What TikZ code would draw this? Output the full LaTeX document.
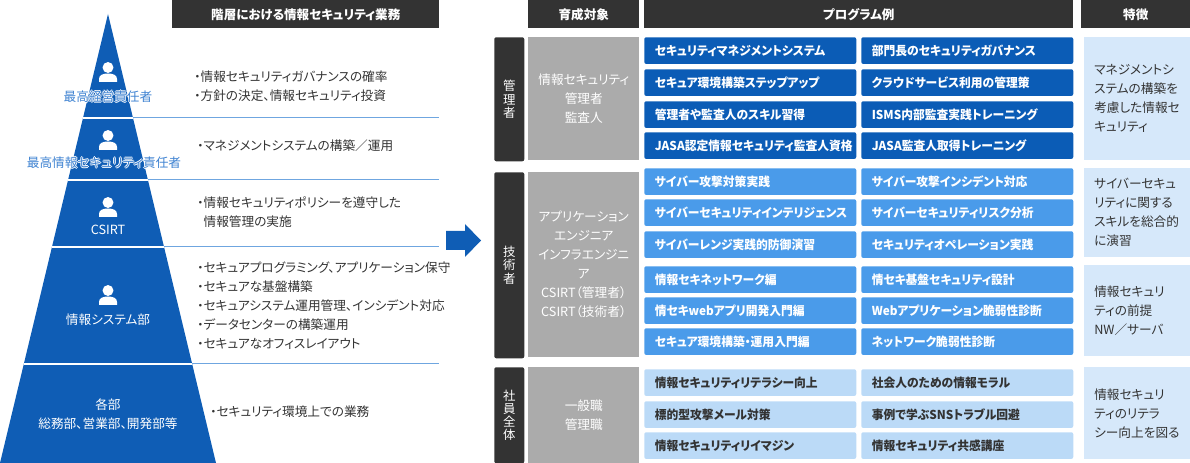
\documentclass[tikz,border=0pt]{standalone}
\usepackage{fontspec}
\setmainfont{Noto Sans CJK JP}[RawFeature=+palt]
\newfontfamily\progfont{Noto Sans CJK JP}[RawFeature=+palt, FakeStretch=0.96]
\definecolor{headgray}{HTML}{333333}
\definecolor{pyrblue}{HTML}{0F5DB5}
\definecolor{progdark}{HTML}{0B5CB6}
\definecolor{progmid}{HTML}{4A9BEA}
\definecolor{proglight}{HTML}{BBDAF7}
\definecolor{featblue}{HTML}{D6E8FA}
\definecolor{graybox}{HTML}{ABABAB}
\definecolor{sepblue}{HTML}{6FA6E0}
\definecolor{lblblue}{HTML}{3F83D2}
\definecolor{txtgray}{HTML}{333333}

\newcommand\nobul{\hphantom{・}}
\newcommand\halo[1]{%
  \makebox[0pt][l]{\color{white}\hspace*{0.7pt}#1}%
  \makebox[0pt][l]{\color{white}\hspace*{-0.7pt}#1}%
  \makebox[0pt][l]{\color{white}\raisebox{0.7pt}{#1}}%
  \makebox[0pt][l]{\color{white}\raisebox{-0.7pt}{#1}}%
  #1}

\tikzset{
  headbox/.style={fill=headgray, text=white, anchor=north west, minimum height=21pt, inner sep=0pt,
    font=\fontsize{9.4}{10}\selectfont\bfseries},
  catbar/.style={fill=headgray, rounded corners=1.5pt, text=white, anchor=north west, minimum width=22.5pt,
    inner sep=0pt, align=center, font=\fontsize{9.3}{9.9}\selectfont},
  targetbox/.style={fill=graybox, text=white, anchor=north west, minimum width=83.25pt, inner sep=0pt,
    align=center, font=\fontsize{9.5}{14.25}\selectfont},
  progbox/.style={rounded corners=1.5pt, anchor=north west, minimum width=159pt, minimum height=20pt,
    inner xsep=7.9pt, inner ysep=0pt, text width=143.2pt, align=left,
    font=\progfont\fontsize{9.2}{10}\selectfont\bfseries},
  progA/.style={progbox, fill=progdark, text=white},
  progB/.style={progbox, fill=progmid, text=white},
  progC/.style={progbox, fill=proglight, text=txtgray},
  featbox/.style={fill=featblue, anchor=north west, minimum width=79.5pt, inner ysep=0pt, inner xsep=7.5pt,
    text width=64.5pt, align=left, text=txtgray, font=\fontsize{9.5}{14.25}\selectfont},
  tasktext/.style={anchor=west, align=left, text=txtgray, inner sep=0pt, font=\fontsize{9.5}{14.25}\selectfont},
  lvllabel/.style={text=white, align=center, inner sep=0pt, font=\fontsize{9.5}{14.25}\selectfont},
  person/.pic={
    \fill[white] (0,-4.5) circle[radius=4.1pt];
    \fill[white] (-9,10) -- (-9,7) .. controls (-9,3) and (-5,1.5) .. (0,1.5)
      .. controls (5,1.5) and (9,3) .. (9,7) -- (9,10) -- cycle;
  }
}

\begin{document}
\begin{tikzpicture}[x=0.75pt, y=-0.75pt]
\useasboundingbox (0,0) rectangle (1190,463);

% pyramid
\fill[pyrblue] (108,14) -- (216,463) -- (0,463) -- cycle;
\foreach \y in {118,180,247,364}{
  \pgfmathsetmacro\w{108/449*(\y-14)}
  \draw[white, line width=1pt] ({108-\w},\y) -- ({108+\w},\y);
  \draw[sepblue, line width=0.75pt] ({108+\w},\y) -- (439,\y);
}
\foreach \y in {72,140,207,295}
  \pic at (108,\y) {person};

\node[lvllabel, text=lblblue] (lv1) at (108,97) {\halo{最高経営責任者}};
\node[lvllabel, text=lblblue] (lv2) at (104,163) {\halo{最高情報セキュリティ責任者}};
\node[lvllabel] (lv3) at (108,230) {CSIRT};
\node[lvllabel] (lv4) at (108,320) {情報システム部};
\node[lvllabel] (lv5) at (108,414) {各部\\総務部、営業部、開発部等};

\node[headbox, minimum width=200.25pt] (hlevel) at (172,0) {階層における情報セキュリティ業務};

\node[tasktext] (t1) at (194,86.5) {・情報セキュリティガバナンスの確率\\・方針の決定、情報セキュリティ投資};
\node[tasktext] (t2) at (197,146) {・マネジメントシステムの構築／運用};
\node[tasktext] (t3) at (197,212) {・情報セキュリティポリシーを遵守した\\\nobul 情報管理の実施};
\node[tasktext] (t4) at (197,306) {・セキュアプログラミング、アプリケーション保守\\・セキュアな基盤構築\\%
  ・セキュアシステム運用管理、インシデント対応\\・データセンターの構築運用\\・セキュアなオフィスレイアウト};
\node[tasktext] (t5) at (210,412) {・セキュリティ環境上での業務};

% arrow
\fill[pyrblue] (446,231) -- (465,231) -- (465,224) -- (481,240.5) -- (465,257) -- (465,250) -- (446,250) -- cycle;

% table
\node[headbox, minimum width=83.25pt] (htarget) at (528,0) {育成対象};
\node[headbox, minimum width=321.75pt] (hprog) at (644,0) {プログラム例};
\node[headbox, minimum width=81.75pt] (hfeat) at (1081,0) {特徴};

\node[catbar, minimum height=93pt] (cmgr) at (494,37) {管\\理\\者};
\node[catbar, minimum height=139.5pt] (ceng) at (494,172) {技\\術\\者};
\node[catbar, minimum height=72pt] (call) at (494,367) {社\\員\\全\\体};

\node[targetbox, minimum height=92.25pt] (gmgr) at (528,37) {情報セキュリティ\\管理者\\監査人};
\node[targetbox, minimum height=138.75pt] (geng) at (528,172)
  {アプリケーション\\エンジニア\\インフラエンジニ\\ア\\CSIRT（管理者）\\CSIRT（技術者）};
\node[targetbox, minimum height=72pt] (gall) at (528,367) {一般職\\管理職};

\foreach \y/\a/\b [count=\n] in {
  37/{セキュリティマネジメントシステム}/{部門長のセキュリティガバナンス},
  69/{セキュア環境構築ステップアップ}/{クラウドサービス利用の管理策},
  101/{管理者や監査人のスキル習得}/{ISMS内部監査実践トレーニング},
  132/{JASA認定情報セキュリティ監査人資格}/{JASA監査人取得トレーニング}}{
  \node[progA] (m\n-a) at (644,\y) {\a};
  \node[progA] (m\n-b) at (861,\y) {\b};
}
\foreach \y/\a/\b [count=\n] in {
  168/{サイバー攻撃対策実践}/{サイバー攻撃インシデント対応},
  199/{サイバーセキュリティインテリジェンス}/{サイバーセキュリティリスク分析},
  231/{サイバーレンジ実践的防御演習}/{セキュリティオペレーション実践},
  266/{情報セキネットワーク編}/{情セキ基盤セキュリティ設計},
  297/{情セキwebアプリ開発入門編}/{Webアプリケーション脆弱性診断},
  328/{セキュア環境構築・運用入門編}/{ネットワーク脆弱性診断}}{
  \node[progB] (e\n-a) at (644,\y) {\a};
  \node[progB] (e\n-b) at (861,\y) {\b};
}
\foreach \y/\a/\b [count=\n] in {
  369/{情報セキュリティリテラシー向上}/{社会人のための情報モラル},
  401/{標的型攻撃メール対策}/{事例で学ぶSNSトラブル回避},
  432/{情報セキュリティリイマジン}/{情報セキュリティ共感講座}}{
  \node[progC] (a\n-a) at (644,\y) {\a};
  \node[progC] (a\n-b) at (861,\y) {\b};
}

\node[featbox, minimum height=92.25pt] (f1) at (1084,37) {マネジメントシ\\ステムの構築を\\考慮した情報セ\\キュリティ};
\node[featbox, minimum height=66.75pt] (f2) at (1084,168) {サイバーセキュ\\リティに関する\\スキルを総合的\\に演習};
\node[featbox, minimum height=68.25pt] (f3) at (1084,265) {情報セキュリ\\ティの前提\\NW／サーバ};
\node[featbox, minimum height=69pt] (f4) at (1084,367) {情報セキュリ\\ティのリテラ\\シー向上を図る};
\end{tikzpicture}
\end{document}
